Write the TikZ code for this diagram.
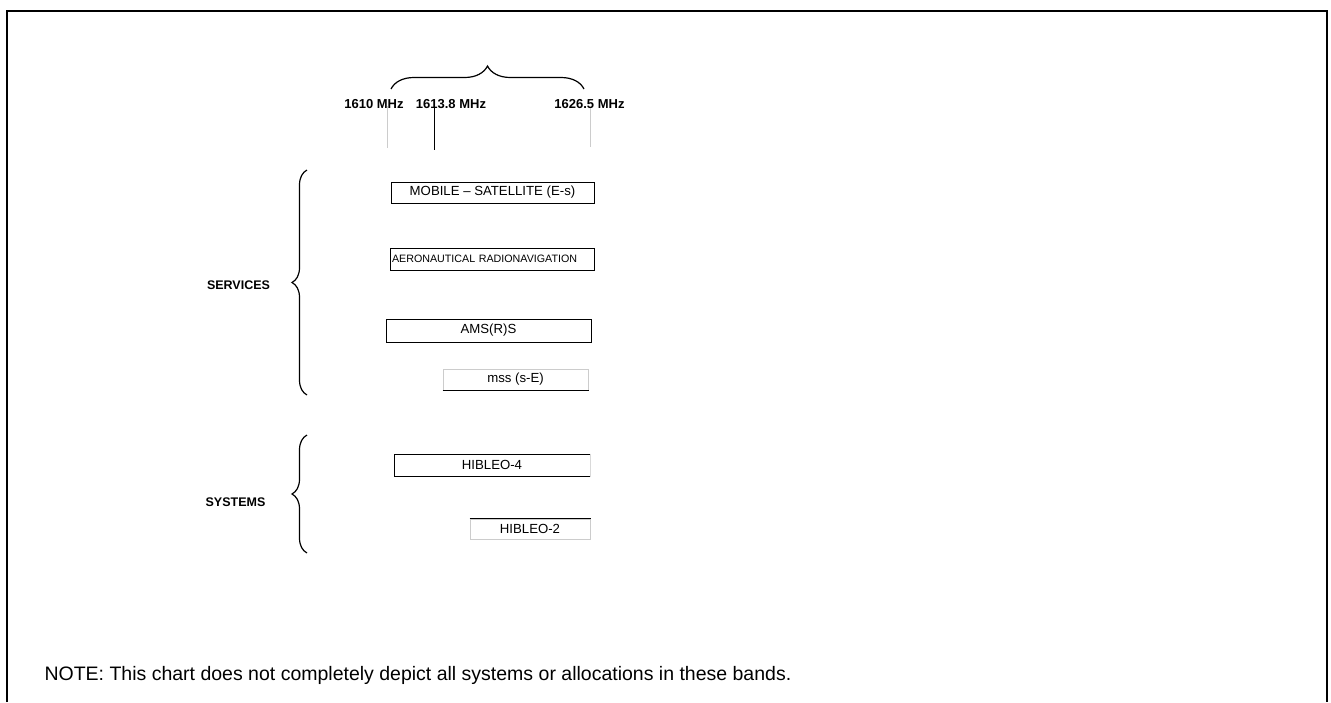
\documentclass[tikz,border=0pt]{standalone}
\usepackage{fontspec}
\setmainfont{Liberation Sans}
\usetikzlibrary{decorations.pathreplacing}

\begin{document}
\begin{tikzpicture}[x=1pt,y=-1pt,
  band/.style={draw, rectangle, line width=1pt, inner sep=0pt, font=\fontsize{13.2}{15}\selectfont},
  freq/.style={anchor=base, font=\bfseries\fontsize{13}{15}\selectfont},
  group/.style={anchor=base, font=\bfseries\fontsize{12.5}{15}\selectfont},
  curly/.style={decorate, decoration={brace, amplitude=#1}, line width=1.2pt}]

\useasboundingbox (0,0) rectangle (1331,702);
\draw[line width=2pt] (7,702) -- (7,11) -- (1327,11) -- (1327,702);


\node[freq] (f1610) at (374,108) {1610 MHz};
\node[freq] (f1613) at (451,108) {1613.8 MHz};
\node[freq] (f1626) at (589.5,108) {1626.5 MHz};

\draw[gray!40] (387,106) -- (387,148);
\draw[line width=1pt] (434,103) -- (434,150);
\draw[gray!40] (590,108) -- (590,147);

\draw[curly=23pt] (391,89) -- (584,89);


\node[band, minimum width=203pt, minimum height=21pt] (mss) at (492.5,192.5) {MOBILE \textendash{} SATELLITE (E-s)};
\node[band, minimum height=22pt, text width=200pt, align=left, inner xsep=2pt,
  font=\fontsize{10.7}{12}\selectfont] (arns) at (492,259) {AERONAUTICAL RADIONAVIGATION};
\node[band, minimum width=205pt, minimum height=23pt] (amsrs) at (488.5,330.5) {AMS(R)S};
\node[band, draw=gray!40, minimum width=145pt, minimum height=21pt] (msse) at (515.5,379.5) {mss (s-E)};
\draw[line width=1pt] (msse.south west) -- (msse.south east);

\node[group] (services) at (238.5,289) {SERVICES};
\draw[curly=15pt] (307,395) -- (307,170);


\node[band, minimum width=196pt, minimum height=22pt] (hib4) at (492,465) {HIBLEO-4};
\draw[gray!30, line width=1pt] (hib4.north east) -- (hib4.south east);
\node[band, draw=gray!40, minimum width=120pt, minimum height=20pt] (hib2) at (530,529) {HIBLEO-2};
\draw[line width=1pt] (hib2.north west) -- (hib2.north east);

\node[group] (systems) at (235.5,506) {SYSTEMS};
\draw[curly=15pt] (307,553) -- (307,435);


\node[anchor=base west, font=\fontsize{19.5}{22}\selectfont] (note) at (41,680)
  {NOTE: This chart does not completely depict all systems or allocations in these bands.};

\end{tikzpicture}
\end{document}
